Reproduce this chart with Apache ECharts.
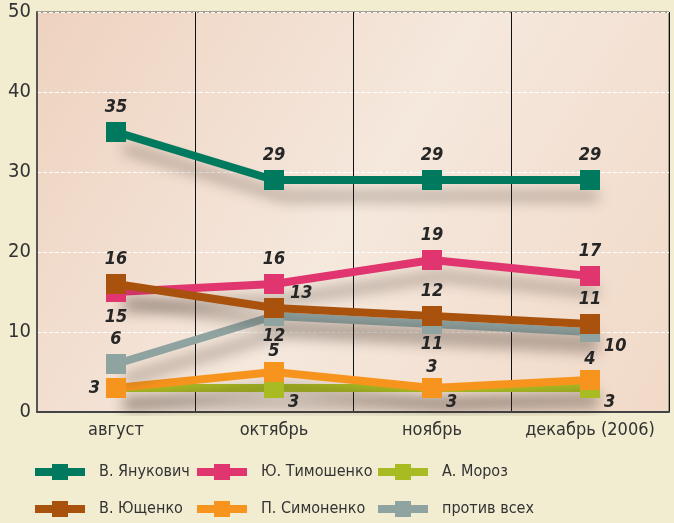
<!DOCTYPE html>
<html>
<head>
<meta charset="utf-8">
<script src="https://cdn.jsdelivr.net/npm/echarts@6/dist/echarts.min.js"></script>
<style>
  html, body { margin: 0; padding: 0; background: #f2ecd0; }
  #main { width: 674px; height: 523px; }
</style>
</head>
<body>
<div id="main"></div>
<script>
// данные
var months = ['август', 'октябрь', 'ноябрь', 'декабрь (2006)']
var yanukovich = [35, 29, 29, 29]
var timoshenko = [15, 16, 19, 17]
var yushchenko = [16, 13, 12, 11]
var simonenko = [3, 5, 3, 4]
var moroz = [3, 3, 3, 3]
var protiv = [6, 12, 11, 10]
var yTicks = [0, 10, 20, 30, 40, 50]

var font = '"Liberation Sans Narrow", "DejaVu Sans Condensed", sans-serif'

// где стоит подпись у каждой точки
function pos (p) {
  if (p === 'none') return { show: false }
  if (p === 'rb') return { position: 'right', distance: 4, offset: [0, 14] }
  if (p === 'rt') return { position: 'right', distance: 6, offset: [0, -15] }
  if (p === 'tn') return { position: 'top', distance: 2 }
  if (p === 'bn') return { position: 'bottom', distance: 1 }
  return { position: p, distance: 6 }
}

function makeSeries (name, values, color, places) {
  return {
    name: name,
    type: 'line',
    symbol: 'rect',
    symbolSize: 20,
    color: color,
    lineStyle: {
      width: 8,
      color: color,
      shadowColor: 'rgba(60,45,35,0.42)',
      shadowBlur: 14,
      shadowOffsetX: 8,
      shadowOffsetY: 16
    },
    itemStyle: { color: color },
    label: {
      show: true,
      fontFamily: font,
      fontSize: 18,
      fontWeight: 'bold',
      fontStyle: 'italic',
      color: '#262626'
    },
    data: values.map(function (v, i) {
      return { value: v, label: pos(places[i]) }
    })
  }
}

var chart = echarts.init(document.getElementById('main'))

function legendCol (left, names) {
  return {
    orient: 'vertical',
    left: left,
    top: 464,
    padding: 0,
    data: names,
    itemWidth: 50,
    itemHeight: 20,
    itemGap: 21,
    textStyle: { fontFamily: font, fontSize: 16, color: '#333', padding: [0, 0, 0, 9] },
    itemStyle: { shadowBlur: 0, shadowOffsetX: 0, shadowOffsetY: 0 },
    lineStyle: { width: 8, shadowBlur: 0, shadowOffsetX: 0, shadowOffsetY: 0 }
  }
}

chart.setOption({
  backgroundColor: '#f2ecd0',
  animation: false,
  grid: {
    left: 37,
    right: 5,
    top: 12,
    bottom: 111,
    show: true,
    borderColor: '#555',
    borderWidth: 1,
    backgroundColor: new echarts.graphic.LinearGradient(0, 0, 1, 1, [
      { offset: 0, color: '#eed2bf' },
      { offset: 0.5, color: '#f5e8dd' },
      { offset: 1, color: '#f1d9c7' }
    ])
  },
  legend: [
    legendCol(31, ['В. Янукович', 'В. Ющенко']),
    legendCol(193, ['Ю. Тимошенко', 'П. Симоненко']),
    legendCol(374, ['А. Мороз', 'против всех'])
  ],
  xAxis: {
    type: 'category',
    data: months,
    boundaryGap: true,
    axisLine: { lineStyle: { color: '#444', width: 2 } },
    axisTick: { show: false },
    axisLabel: { interval: 0, fontFamily: font, fontSize: 18, color: '#333', margin: 9 },
    splitLine: { show: true, interval: 0, lineStyle: { color: '#111', width: 1 } }
  },
  yAxis: {
    type: 'value',
    min: yTicks[0],
    max: yTicks[yTicks.length - 1],
    interval: 10,
    axisLine: { show: true, lineStyle: { color: '#555', width: 2 } },
    axisTick: { show: false },
    axisLabel: { fontFamily: font, fontSize: 20, color: '#333', margin: 6 },
    splitLine: { show: true, lineStyle: { color: '#ffffff', type: 'dashed', width: 1 } }
  },
  series: [
    makeSeries('А. Мороз', moroz, '#a9bb22', ['none', 'rb', 'rb', 'rb']),
    makeSeries('П. Симоненко', simonenko, '#f7941d', ['left', 'tn', 'tn', 'tn']),
    makeSeries('против всех', protiv, '#8fa3a1', ['top', 'bn', 'bn', 'rb']),
    makeSeries('Ю. Тимошенко', timoshenko, '#e0356f', ['bottom', 'top', 'top', 'top']),
    makeSeries('В. Ющенко', yushchenko, '#a9520d', ['top', 'rt', 'top', 'top']),
    makeSeries('В. Янукович', yanukovich, '#007a5f', ['top', 'top', 'top', 'top'])
  ]
})
</script>
</body>
</html>
